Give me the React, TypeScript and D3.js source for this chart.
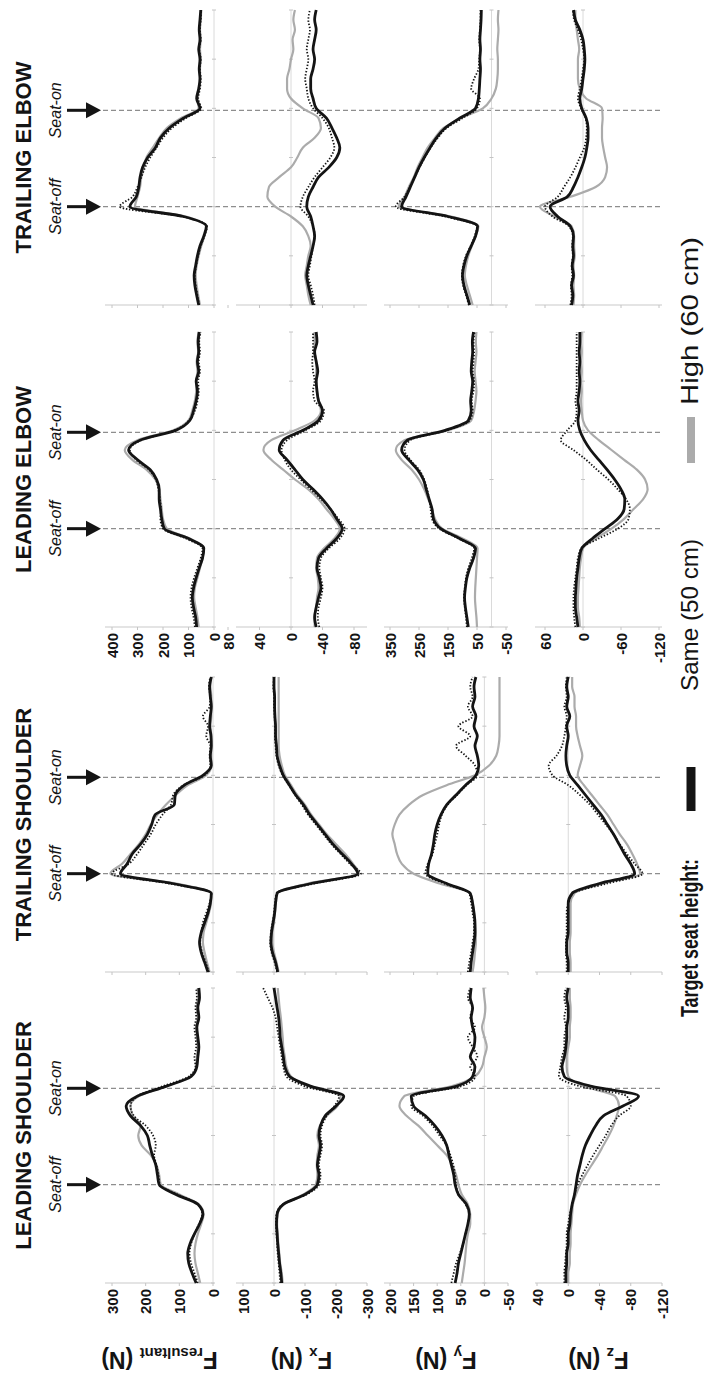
import React from 'react';
import * as d3 from 'd3';

// The figure is laid out "landscape" (time runs left to right) and then
// turned a quarter turn counter-clockwise to fill the portrait page.
const PAGE_W = 706;
const PAGE_H = 1379;

const panelTitles = ['LEADING SHOULDER', 'TRAILING SHOULDER', 'LEADING ELBOW', 'TRAILING ELBOW'];
const rowSubscripts = ['resultant', 'x', 'y', 'z'];

// normalised time base shared by every trace (seat-off at 100, seat-on at 198)
const timeSteps = d3.range(0, 301, 10);
const seatOffTime = 100;
const seatOnTime = 198;

// y-axis tick values (shoulders share one set, elbows another)
const shoulderTicks = [
  [300, 200, 100, 0],
  [100, 0, -100, -200, -300],
  [200, 150, 100, 50, 0, -50],
  [40, 0, -40, -80, -120],
];
const elbowTicks = [
  [400, 300, 200, 100, 0],
  [80, 40, 0, -40, -80],
  [350, 250, 150, 50, -50],
  [60, 0, -60, -120],
];

// ---- Leading shoulder ----
const lsResSame = [50, 62, 72, 75, 68, 55, 40, 30, 45, 110, 160, 165, 170, 180, 188, 195, 215, 245, 258, 225, 140, 65, 48, 45, 42, 45, 48, 42, 45, 40, 42];
const lsResHigh = [38, 45, 52, 55, 52, 45, 35, 28, 42, 100, 155, 160, 168, 185, 212, 222, 215, 238, 245, 220, 140, 68, 50, 48, 45, 48, 50, 45, 48, 45, 45];
const lsResDot = [45, 55, 65, 70, 65, 55, 42, 32, 45, 105, 158, 162, 168, 175, 170, 178, 200, 235, 245, 225, 150, 72, 52, 55, 50, 52, 55, 50, 52, 48, 50];
const lsFxSame = [-25, -22, -18, -15, -12, -10, -8, -10, -30, -100, -140, -145, -140, -145, -150, -145, -150, -165, -200, -225, -120, -50, -35, -30, -25, -20, -18, -15, -10, -5, 0];
const lsFxHigh = [-28, -25, -20, -17, -14, -12, -10, -12, -32, -95, -135, -140, -138, -140, -145, -140, -148, -170, -205, -215, -110, -55, -40, -35, -30, -28, -25, -22, -18, -15, -12];
const lsFxDot = [-20, -18, -15, -12, -10, -8, -6, -8, -28, -105, -145, -150, -145, -150, -155, -150, -155, -170, -195, -210, -100, -40, -30, -25, -20, -15, -10, -5, 5, 20, 35];
const lsFySame = [62, 58, 55, 50, 45, 40, 35, 32, 38, 55, 62, 65, 70, 75, 80, 90, 105, 125, 150, 155, 60, 25, 20, 30, 22, 20, 25, 28, 25, 30, 28];
const lsFyHigh = [48, 45, 42, 40, 38, 35, 30, 30, 35, 48, 55, 60, 68, 80, 100, 120, 140, 165, 180, 170, 70, 20, 5, 0, -5, 0, 5, 0, -2, 0, 2];
const lsFyDot = [70, 65, 60, 52, 45, 40, 35, 32, 40, 55, 60, 62, 66, 72, 80, 95, 110, 130, 155, 150, 50, 20, 30, 15, 25, 35, 20, 30, 25, 35, 30];
const lsFzSame = [3, 3, 2, 2, 0, 0, -2, -3, -5, -8, -10, -12, -15, -18, -22, -28, -35, -45, -70, -90, -30, 5, 8, 5, 3, 2, 2, 0, 0, 2, 0];
const lsFzHigh = [0, 0, -2, -2, -3, -3, -4, -5, -6, -10, -15, -22, -30, -38, -45, -52, -58, -62, -65, -60, -20, 0, 2, 2, 0, -2, -2, -3, -3, -2, -2];
const lsFzDot = [5, 5, 4, 3, 2, 2, 0, -2, -5, -8, -12, -18, -25, -32, -40, -48, -55, -65, -80, -75, -15, 12, 10, 8, 5, 5, 3, 5, 3, 5, 3];

// ---- Trailing shoulder ----
const tsResSame = [15, 25, 35, 40, 35, 25, 15, 8, 5, 120, 275, 255, 240, 215, 195, 182, 172, 115, 112, 85, 30, 5, 8, 5, 6, 10, 8, 5, 8, 10, 5];
const tsResHigh = [10, 18, 25, 30, 28, 20, 12, 6, 5, 110, 305, 270, 245, 220, 200, 185, 165, 140, 110, 75, 20, 5, 5, 5, 5, 8, 5, 5, 5, 8, 5];
const tsResDot = [12, 22, 32, 38, 35, 30, 20, 10, 5, 130, 300, 250, 225, 205, 185, 170, 150, 125, 118, 88, 25, 8, 10, 8, 20, 15, 30, 10, 8, 12, 8];
const tsFxSame = [-12, -5, 5, 10, 8, 3, -2, -5, -10, -120, -270, -250, -220, -190, -165, -140, -115, -95, -70, -50, -30, -18, -10, -8, -5, -5, -3, -2, -2, 0, 0];
const tsFxHigh = [-15, -8, 0, 5, 5, 0, -3, -6, -10, -110, -275, -255, -230, -200, -170, -145, -120, -100, -75, -55, -35, -25, -18, -15, -15, -15, -15, -15, -15, -15, -15];
const tsFxDot = [-10, -2, 8, 12, 10, 5, 0, -3, -8, -130, -280, -245, -215, -185, -160, -135, -110, -90, -68, -48, -28, -15, -8, -5, -3, -3, -2, 0, 0, 2, 0];
const tsFySame = [30, 28, 25, 22, 20, 20, 22, 25, 30, 80, 120, 118, 112, 108, 105, 100, 92, 80, 60, 40, 18, 12, 15, 20, 15, 22, 18, 25, 20, 22, 18];
const tsFyHigh = [25, 22, 20, 18, 18, 20, 22, 25, 30, 95, 150, 175, 185, 190, 195, 190, 180, 160, 130, 80, 20, -10, -25, -30, -32, -32, -32, -32, -32, -32, -32];
const tsFyDot = [35, 32, 28, 25, 22, 22, 25, 28, 32, 85, 125, 120, 110, 105, 100, 96, 90, 78, 58, 38, 15, 20, 40, 60, 30, 55, 25, 35, 25, 30, 25];
const tsFzSame = [0, 0, 2, 2, 0, 0, 0, 0, -5, -40, -85, -80, -72, -65, -58, -50, -42, -32, -22, -12, -2, 2, 3, 2, 0, 2, -2, 2, 0, 2, 0];
const tsFzHigh = [-3, -3, -2, -2, -3, -3, -3, -3, -8, -45, -92, -88, -82, -75, -66, -58, -50, -40, -30, -20, -12, -15, -18, -15, -12, -10, -10, -8, -8, -5, -5];
const tsFzDot = [2, 2, 3, 3, 2, 2, 2, 0, -6, -50, -95, -85, -75, -66, -58, -48, -38, -28, -15, 0, 20, 25, 15, 8, 5, 3, 2, 5, 2, 3, 2];

// ---- Leading elbow ----
const leResSame = [68, 72, 80, 85, 80, 70, 58, 45, 40, 100, 195, 205, 210, 215, 215, 225, 250, 300, 335, 290, 150, 95, 80, 70, 65, 70, 60, 65, 60, 62, 58];
const leResHigh = [60, 65, 72, 78, 75, 65, 55, 45, 40, 95, 185, 200, 205, 210, 215, 230, 265, 320, 350, 300, 160, 100, 85, 75, 70, 70, 65, 68, 62, 65, 60];
const leResDot = [75, 80, 88, 92, 88, 78, 65, 52, 45, 110, 200, 210, 208, 212, 218, 228, 255, 305, 330, 285, 155, 98, 75, 65, 60, 62, 55, 60, 55, 58, 52];
const leFxSame = [-32, -30, -32, -35, -38, -36, -33, -35, -45, -58, -65, -58, -50, -40, -28, -15, -5, 5, 15, 10, -15, -35, -40, -35, -33, -32, -34, -32, -30, -33, -32];
const leFxHigh = [-30, -30, -32, -33, -35, -34, -32, -33, -42, -55, -62, -55, -45, -35, -22, -5, 10, 25, 35, 25, -5, -30, -38, -35, -33, -32, -32, -32, -30, -30, -30];
const leFxDot = [-36, -34, -35, -38, -40, -38, -36, -38, -48, -62, -68, -60, -50, -38, -25, -12, 0, 8, 12, 5, -18, -38, -42, -30, -28, -30, -28, -27, -28, -28, -28];
const leFySame = [80, 85, 90, 93, 90, 85, 75, 62, 55, 110, 175, 200, 205, 215, 225, 235, 255, 285, 310, 290, 160, 80, 70, 72, 68, 65, 70, 68, 65, 66, 62];
const leFyHigh = [50, 52, 55, 57, 56, 54, 52, 50, 48, 100, 170, 195, 205, 218, 232, 250, 275, 310, 330, 300, 150, 70, 60, 55, 52, 55, 58, 55, 52, 54, 52];
const leFyDot = [85, 88, 92, 95, 92, 88, 80, 68, 60, 115, 180, 205, 210, 215, 222, 232, 250, 280, 300, 280, 155, 75, 65, 68, 62, 60, 65, 62, 60, 62, 58];
const leFzSame = [8, 10, 12, 12, 11, 10, 8, 6, 2, -15, -35, -55, -65, -66, -60, -50, -38, -25, -12, -2, 5, 8, 6, 8, 6, 5, 6, 5, 6, 5, 5];
const leFzHigh = [5, 6, 8, 8, 7, 6, 5, 3, 0, -20, -45, -65, -80, -95, -102, -98, -85, -65, -45, -25, -8, 0, 2, 3, 2, 3, 2, 3, 2, 3, 2];
const leFzDot = [12, 14, 15, 15, 14, 12, 10, 8, 3, -25, -55, -72, -74, -68, -55, -40, -22, -5, 15, 35, 25, 12, 10, 12, 10, 10, 10, 10, 10, 10, 10];

// ---- Trailing elbow ----
const teResSame = [60, 68, 75, 78, 72, 65, 55, 40, 30, 120, 330, 305, 295, 290, 280, 260, 230, 210, 175, 120, 55, 68, 60, 55, 58, 55, 60, 55, 58, 55, 52];
const teResHigh = [55, 62, 68, 72, 68, 60, 50, 38, 28, 110, 310, 300, 290, 285, 275, 265, 240, 215, 185, 130, 60, 65, 58, 55, 55, 52, 55, 52, 55, 52, 50];
const teResDot = [58, 65, 72, 75, 70, 62, 52, 38, 28, 125, 370, 320, 300, 285, 270, 250, 225, 200, 165, 110, 50, 62, 55, 52, 55, 52, 58, 52, 55, 52, 50];
const teFxSame = [-28, -25, -22, -20, -22, -25, -28, -30, -28, -25, -20, -22, -28, -35, -48, -58, -62, -58, -52, -45, -32, -28, -25, -25, -28, -30, -28, -30, -32, -30, -32];
const teFxHigh = [-25, -22, -20, -18, -20, -22, -25, -22, -15, 0, 20, 30, 28, 15, 0, -8, -15, -30, -38, -35, -15, 0, 5, 5, 2, 0, -3, -2, -5, -3, -5];
const teFxDot = [-30, -28, -25, -22, -24, -26, -28, -30, -28, -22, -12, -15, -22, -30, -40, -50, -55, -52, -48, -40, -28, -22, -20, -18, -20, -22, -20, -22, -24, -22, -24];
const teFySame = [75, 85, 95, 100, 95, 85, 70, 55, 48, 150, 310, 295, 280, 265, 250, 232, 212, 190, 160, 110, 55, 45, 42, 40, 38, 40, 38, 40, 38, 36, 35];
const teFyHigh = [65, 75, 85, 92, 88, 80, 68, 55, 45, 140, 320, 300, 285, 268, 255, 238, 220, 195, 165, 105, 30, 0, -15, -20, -22, -22, -20, -22, -24, -22, -24];
const teFyDot = [78, 88, 98, 102, 98, 88, 72, 58, 50, 160, 330, 300, 282, 265, 248, 230, 210, 185, 155, 100, 50, 40, 70, 60, 45, 42, 40, 42, 40, 38, 38];
const teFzSame = [18, 16, 18, 15, 17, 15, 16, 15, 20, 40, 52, 25, 15, 8, 2, -3, -6, -8, -8, -5, 2, 5, 2, 0, -2, -3, -2, 0, 5, 12, 15];
const teFzHigh = [15, 14, 15, 14, 15, 13, 14, 14, 18, 45, 68, 20, -20, -35, -38, -35, -32, -30, -30, -31, -30, -5, 5, 8, 8, 8, 6, 8, 10, 12, 12];
const teFzDot = [20, 18, 19, 17, 18, 16, 17, 16, 22, 48, 60, 40, 30, 20, 12, 5, -2, -5, -6, -4, 3, 8, 5, 2, 0, -2, 0, 3, 8, 14, 16];

// traces grouped [column][row] = [same, high, dotted]
const traces = [
  [[lsResSame, lsResHigh, lsResDot], [lsFxSame, lsFxHigh, lsFxDot], [lsFySame, lsFyHigh, lsFyDot], [lsFzSame, lsFzHigh, lsFzDot]],
  [[tsResSame, tsResHigh, tsResDot], [tsFxSame, tsFxHigh, tsFxDot], [tsFySame, tsFyHigh, tsFyDot], [tsFzSame, tsFzHigh, tsFzDot]],
  [[leResSame, leResHigh, leResDot], [leFxSame, leFxHigh, leFxDot], [leFySame, leFyHigh, leFyDot], [leFzSame, leFzHigh, leFzDot]],
  [[teResSame, teResHigh, teResDot], [teFxSame, teFxHigh, teFxDot], [teFySame, teFyHigh, teFyDot], [teFzSame, teFzHigh, teFzDot]],
];

// ---- layout (landscape frame: u along time, v down the page) ----
const COL_START = [96, 407, 752, 1074];
const COL_W = 295;
const ROW_FRAME = [[105, 214], [236, 367], [384, 508], [535, 662]];
const SHOULDER_RANGE = [[112, 213], [243, 367], [390, 508], [537, 662]];
const ELBOW_RANGE = [[112, 214], [228, 354], [390, 506], [545, 659]];

const FONT = "'Liberation Sans', Arial, Helvetica, sans-serif";
const BLACK = '#141414';
const GREY = '#ababab';

export default function App() {
  const xScales = COL_START.map((s) => d3.scaleLinear().domain([0, 300]).range([s, s + COL_W]));
  const yScale = (c: number, r: number) => {
    const elbow = c >= 2;
    const ticks = elbow ? elbowTicks[r] : shoulderTicks[r];
    const rng = elbow ? ELBOW_RANGE[r] : SHOULDER_RANGE[r];
    return d3.scaleLinear().domain([ticks[0], ticks[ticks.length - 1]]).range(rng);
  };

  const panels: React.ReactNode[] = [];
  traces.forEach((col, c) => {
    const x = xScales[c];
    col.forEach((rowSeries, r) => {
      const y = yScale(c, r);
      const [v0, v1] = ROW_FRAME[r];
      const line = d3
        .line<number>()
        .x((_, i) => x(timeSteps[i]))
        .y((d) => y(d))
        .curve(d3.curveMonotoneX);
      const zero = y(0);
      panels.push(
        <g key={`p${c}-${r}`}>
          {/* axis frame */}
          <line x1={x(0)} x2={x(0)} y1={v0} y2={v1} stroke="#c9c9c9" strokeWidth={1.2} />
          <line x1={x(0)} x2={x(300)} y1={zero} y2={zero} stroke="#dadada" strokeWidth={1} />
          {d3.range(0, 301, 50).map((t) => (
            <line key={t} x1={x(t)} x2={x(t)} y1={zero - 2} y2={zero + 2} stroke="#c4c4c4" strokeWidth={1} />
          ))}
          {(c >= 2 ? elbowTicks[r] : shoulderTicks[r]).map((tv) => (
            <line key={tv} x1={x(0) - 3} x2={x(0)} y1={y(tv)} y2={y(tv)} stroke="#c4c4c4" strokeWidth={1} />
          ))}
          {/* traces: high (grey), same (black), dotted */}
          <path d={line(rowSeries[1]) || ''} fill="none" stroke={GREY} strokeWidth={2.2} strokeLinejoin="round" />
          <path d={line(rowSeries[0]) || ''} fill="none" stroke={BLACK} strokeWidth={2.8} strokeLinejoin="round" />
          <path d={line(rowSeries[2]) || ''} fill="none" stroke={BLACK} strokeWidth={1.8} strokeDasharray="1.4 1.8" />
        </g>
      );
    });
  });

  // tick labels on the first shoulder and first elbow columns
  const tickLabels: React.ReactNode[] = [];
  [0, 2].forEach((c) => {
    const ticks = c >= 2 ? elbowTicks : shoulderTicks;
    ticks.forEach((rowTicks, r) => {
      const y = yScale(c, r);
      rowTicks.forEach((tv) => {
        tickLabels.push(
          <text
            key={`t${c}-${r}-${tv}`}
            x={COL_START[c] - 6}
            y={y(tv) + 5.5}
            textAnchor="end"
            fontSize={15}
            fontWeight="bold"
            fill={BLACK}
          >
            {tv}
          </text>
        );
      });
    });
  });

  return (
    <svg
      width={PAGE_W}
      height={PAGE_H}
      style={{ position: 'absolute', left: 0, top: 0, display: 'block', background: '#fff' }}
      fontFamily={FONT}
    >
      <rect width={PAGE_W} height={PAGE_H} fill="#fff" />
      <g transform={`translate(0,${PAGE_H}) rotate(-90)`}>
        {/* column titles */}
        {panelTitles.map((t, c) => (
          <text
            key={t}
            x={COL_START[c] + COL_W / 2}
            y={31}
            textAnchor="middle"
            fontSize={22}
            fontWeight="bold"
            fill={BLACK}
          >
            {t}
          </text>
        ))}

        {/* seat-off / seat-on markers */}
        {xScales.map((x, c) =>
          [
            { label: 'Seat-off', t: seatOffTime },
            { label: 'Seat-on', t: seatOnTime },
          ].map((ev) => {
            const u = x(ev.t);
            return (
              <g key={`${c}-${ev.label}`}>
                <line x1={u} x2={u} y1={103} y2={662} stroke="#8e8e8e" strokeWidth={1.2} strokeDasharray="5 3" />
                <text x={u} y={61} textAnchor="middle" fontSize={16} fontStyle="italic" fill={BLACK}>
                  {ev.label}
                </text>
                <line x1={u} x2={u} y1={67} y2={88} stroke={BLACK} strokeWidth={3} />
                <path d={`M${u - 8},${86} L${u + 8},${86} L${u},${101} Z`} fill={BLACK} />
              </g>
            );
          })
        )}

        {panels}
        {tickLabels}

        {/* y-axis titles */}
        {rowSubscripts.map((sub, r) => {
          const [v0, v1] = ROW_FRAME[r];
          return (
            <text
              key={sub}
              transform={`translate(27,${(v0 + v1) / 2}) rotate(-90)`}
              textAnchor="middle"
              fontWeight="bold"
              fill={BLACK}
            >
              <tspan fontSize={24}>F</tspan>
              <tspan fontSize={15} dy={4}>
                {sub}
              </tspan>
              <tspan fontSize={23} dy={-4}>
                {' (N)'}
              </tspan>
            </text>
          );
        })}

        {/* legend */}
        <g fill={BLACK}>
          <text x={362} y={698} fontSize={23} fontWeight="bold" textLength={158} lengthAdjust="spacingAndGlyphs">
            Target seat height:
          </text>
          <line x1={568} x2={612} y1={691} y2={691} stroke={BLACK} strokeWidth={9} />
          <text x={688} y={698} fontSize={24} textLength={152} lengthAdjust="spacingAndGlyphs">
            Same (50 cm)
          </text>
          <line x1={916} x2={962} y1={691} y2={691} stroke={GREY} strokeWidth={8} />
          <text x={974} y={698} fontSize={24} textLength={168} lengthAdjust="spacingAndGlyphs">
            High (60 cm)
          </text>
        </g>
      </g>
    </svg>
  );
}
